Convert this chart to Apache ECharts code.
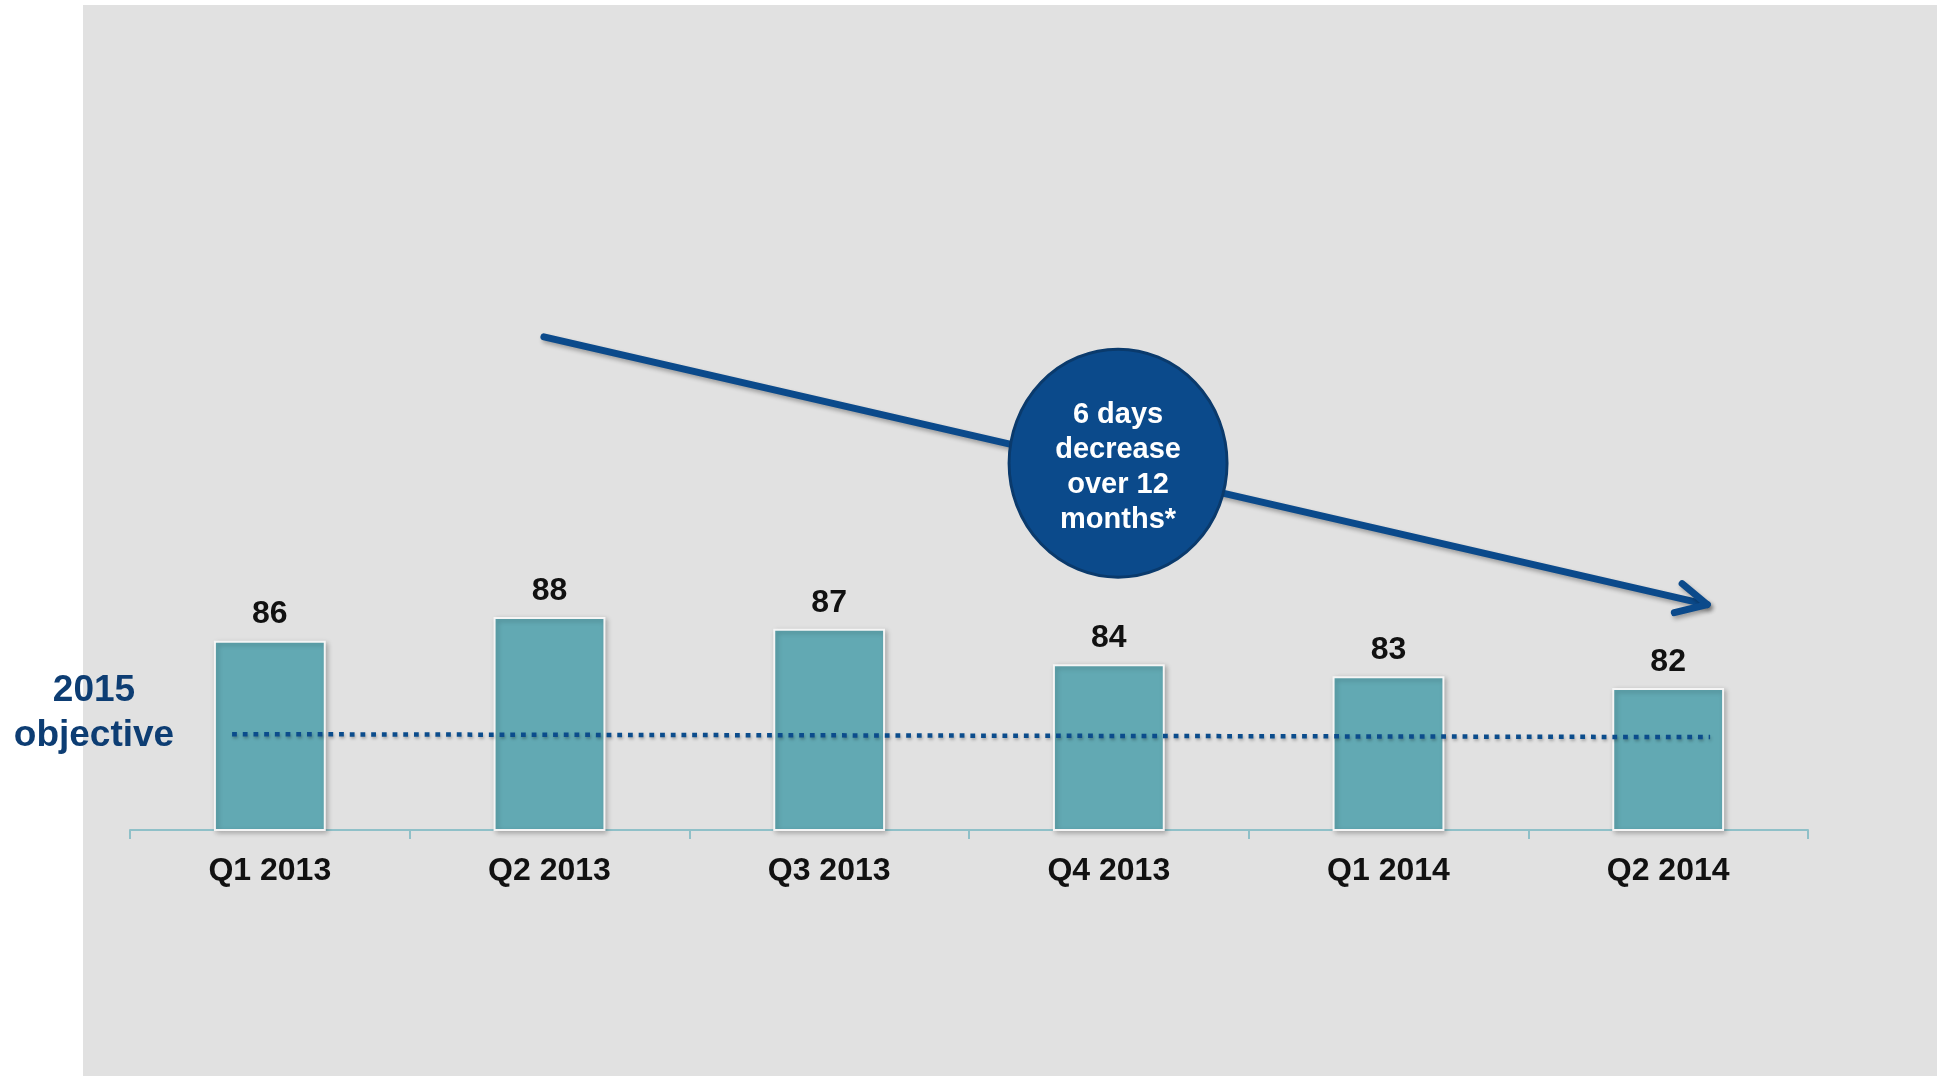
<!DOCTYPE html>
<html><head><meta charset="utf-8">
<script src="https://cdn.jsdelivr.net/npm/echarts@6/dist/echarts.min.js"></script>
<style>html,body{margin:0;padding:0;background:#fff}#c{width:1937px;height:1076px}</style>
</head><body><div id="c"></div>
<script>
// ---- data ----
const categories = ['Q1 2013', 'Q2 2013', 'Q3 2013', 'Q4 2013', 'Q1 2014', 'Q2 2014'];
const values = [86, 88, 87, 84, 83, 82];
const objectiveLine = [[-0.135, 78.1], [5.15, 77.85]];
const arrowShaft = [[0.98, 111.67], [5.14, 89.05]];
const arrowHead = [[5.050, 90.82], [5.140, 89.05], [5.022, 88.37]];
const bubble = [[3.033, 101.0]];
const bubbleText = '6 days\ndecrease\nover 12\nmonths*';
const objectiveText = '2015\nobjective';
const yMin = 70, yMax = 130;

const FONT = "'Liberation Sans', Arial, Helvetica, sans-serif";
const chart = echarts.init(document.getElementById('c'), null, {renderer: 'canvas'});
const navy = '#0b4a8b';

chart.setOption({
  animation: false,
  backgroundColor: '#ffffff',
  graphic: [
    {type: 'rect', z: -100, silent: true, shape: {x: 83, y: 5, width: 1937 - 83, height: 1076 - 5}, style: {fill: '#e1e1e1'}},
    {type: 'text', z: 100, x: 94, y: 713, style: {
      text: objectiveText, fill: '#0d3d73', font: 'bold 37px ' + FONT, lineHeight: 45,
      align: 'center', verticalAlign: 'middle'
    }}
  ],
  grid: {left: 130, right: 129, top: 120, bottom: 246, containLabel: false},
  xAxis: [
    {type: 'category', data: categories, boundaryGap: true,
      axisLine: {show: true, lineStyle: {color: '#8fc0c8', width: 2}},
      axisTick: {show: true, length: 9, lineStyle: {color: '#8fc0c8', width: 2}},
      axisLabel: {color: '#111', fontFamily: FONT, fontWeight: 'bold', fontSize: 32, margin: 25},
      splitLine: {show: false}},
    {type: 'value', min: -0.5, max: 5.5, show: false}
  ],
  yAxis: {type: 'value', min: yMin, max: yMax, show: false, splitLine: {show: false}},
  series: [
    {type: 'bar', data: values, barWidth: '40%', z: 2,
      itemStyle: {color: '#62a9b3', borderColor: '#f5f5f5', borderWidth: 2,
        shadowColor: 'rgba(0,0,0,0.25)', shadowBlur: 5, shadowOffsetX: 2, shadowOffsetY: 2},
      label: {show: true, position: 'top', distance: 10, color: '#111', fontFamily: FONT, fontWeight: 'bold', fontSize: 32}},
    {type: 'line', xAxisIndex: 1, data: objectiveLine, symbol: 'none', z: 5,
      lineStyle: {color: '#0b4c8c', width: 4.5, type: [4.8, 5.9], cap: 'butt',
        shadowColor: 'rgba(0,0,0,0.25)', shadowBlur: 3, shadowOffsetX: 1, shadowOffsetY: 2}},
    {type: 'line', xAxisIndex: 1, data: arrowShaft, symbol: 'none', z: 6,
      lineStyle: {color: navy, width: 7, cap: 'round',
        shadowColor: 'rgba(0,0,0,0.3)', shadowBlur: 4, shadowOffsetX: 2, shadowOffsetY: 3}},
    {type: 'line', xAxisIndex: 1, data: arrowHead, symbol: 'none', z: 6,
      lineStyle: {color: navy, width: 7, cap: 'round', join: 'round',
        shadowColor: 'rgba(0,0,0,0.3)', shadowBlur: 4, shadowOffsetX: 2, shadowOffsetY: 3}},
    {type: 'scatter', xAxisIndex: 1, data: bubble, symbol: 'circle', symbolSize: [218, 228], z: 8,
      itemStyle: {color: navy, borderColor: '#0a3a6c', borderWidth: 3, opacity: 1},
      label: {show: true, position: 'inside', offset: [0, 4], formatter: bubbleText, color: '#fff', fontFamily: FONT,
        fontWeight: 'bold', fontSize: 29, lineHeight: 35}}
  ]
});
</script></body></html>
